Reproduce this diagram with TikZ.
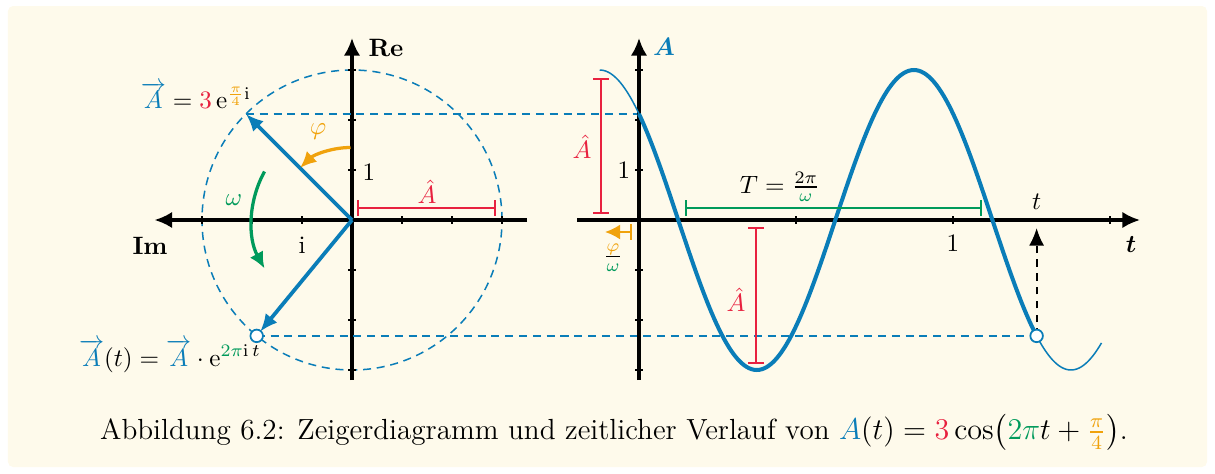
\documentclass[tikz,border=0pt]{standalone}
\usepackage{amsmath,bm}
\usetikzlibrary{arrows.meta}
\definecolor{cblue}{HTML}{0A7DB8}
\definecolor{cred}{HTML}{E8213F}
\definecolor{cgreen}{HTML}{009A5B}
\definecolor{corange}{HTML}{F0A20C}
\definecolor{cbg}{HTML}{FEFAEB}
\tikzset{
  axis/.style={line width=1.2pt,-{Latex[length=7pt,width=6.5pt]}},
  tck/.style={line width=0.8pt},
  phasor/.style={cblue,line width=1.5pt,-{Latex[length=7pt,width=6pt]}},
  helper/.style={cblue,dashed,line width=0.6pt,dash pattern=on 3.2pt off 2.3pt},
  bar/.style={line width=0.8pt,{Bar[width=6pt]}-{Bar[width=6pt]}},
  dot/.style={circle,draw=cblue,fill=white,line width=0.7pt,inner sep=0pt,minimum size=5pt},
  lbl/.style={inner sep=1pt}
}
\begin{document}
\begin{tikzpicture}[x=0.7cm,y=0.7cm]
\useasboundingbox (-7.04,-5.06) rectangle (17.26,4.4);
\fill[cbg,rounded corners=2pt] (-6.88,-4.94) rectangle (17.1,4.28);
% ---------------- left phasor diagram
\draw[helper] (0,0) circle (3);
\draw[axis] (3.5,0) -- (-3.95,0);
\draw[axis] (0,-3.2) -- (0,3.64);
\foreach \k in {-3,-2,-1,1,2,3}{
  \draw[tck] (\k,-0.08) -- (\k,0.08);
  \draw[tck] (-0.08,\k) -- (0.08,\k);
}
\node[lbl] (re) at (0.68,3.44) {\textbf{Re}};
\node[lbl] (im) at (-4.04,-0.52) {\textbf{Im}};
\node[lbl] (ilab) at (-1,-0.5) {i};
\node[lbl] (onel) at (0.34,0.96) {1};
\coordinate (O) at (0,0);
\coordinate (T1) at (-2.1213,2.1213);
\coordinate (P) at (-1.906,-2.3175);
\coordinate (O2) at (5.74,0);
\coordinate (T2) at (5.74,2.1213);
\coordinate (Q) at (13.692,-2.3175);
\coordinate (Qa) at (13.692,-0.16);
\draw[helper] (T1) -- (T2);
\draw[helper] (P) -- (Q);
\draw[phasor] (O) -- (T1);
\draw[phasor,shorten >=2.2pt] (O) -- (P);
\node[dot] (pdot) at (P) {};
% arcs
\draw[corange,line width=1.3pt,-{Latex[length=6.5pt,width=6pt]}] (-0.03,1.45) arc[start angle=90,end angle=134,radius=1.45];
\node[lbl,text=corange] (phil) at (-0.68,1.76) {$\varphi$};
\draw[cgreen,line width=1.3pt,-{Latex[length=6.5pt,width=6pt]}] (151:2) arc[start angle=151,end angle=209,radius=2];
\node[lbl,text=cgreen] (oml) at (-2.36,0.4) {$\omega$};
% amplitude bar
\draw[bar,cred] (0.1,0.24) -- (2.88,0.24);
\node[lbl,text=cred] (ahl) at (1.5,0.56) {$\hat{A}$};
% phasor labels
\node[lbl] (lab1) at (-3.12,2.5) {$\color{cblue}\overrightarrow{A}\color{black}=\color{cred}3\,\color{black}\mathrm{e}^{\color{corange}\frac{\pi}{4}\color{black}\mathrm{i}}$};
\node[lbl] (lab2) at (-3.64,-2.72) {$\color{cblue}\overrightarrow{A}\color{black}(t)=\color{cblue}\overrightarrow{A}\color{black}\cdot\mathrm{e}^{\color{cgreen}2\pi\color{black}\mathrm{i}\,t}$};
% ---------------- right time plot
\draw[axis] (4.5,0) -- (15.76,0);
\draw[axis] (5.74,-3.2) -- (5.74,3.64);
\foreach \k in {-3,-2,-1,1,2,3}{
  \draw[tck] (5.66,\k) -- (5.82,\k);
}
\foreach \k in {1,2,3}{
  \draw[tck] ({5.74+\k*pi},-0.08) -- ({5.74+\k*pi},0.08);
}
\node[lbl] (al) at (6.24,3.46) {$\color{cblue}\bm{A}$};
\node[lbl] (tl) at (15.58,-0.5) {$\bm{t}$};
\node[lbl] (oner) at (12.02,-0.46) {1};
\node[lbl] (onea) at (5.44,1.0) {1};
\draw[cblue,line width=0.6pt,domain=-0.7854:0,samples=20] plot ({5.74+\x},{3*cos(deg(\x+pi/4))});
\draw[cblue,line width=1.6pt,domain=0:7.952,samples=160] plot ({5.74+\x},{3*cos(deg(\x+pi/4))});
\draw[cblue,line width=0.6pt,domain=7.952:9.25,samples=30] plot ({5.74+\x},{3*cos(deg(\x+pi/4))});
\draw[dashed,line width=0.8pt,dash pattern=on 3pt off 2.5pt,-{Latex[length=7pt,width=6pt]}] (Q) -- (Qa);
\node[dot] (qdot) at (Q) {};
\node[lbl] (tt) at (13.692,0.36) {$t$};
% bars right
\draw[bar,cred] (4.98,2.85) -- (4.98,0.12);
\node[lbl,text=cred] (ah2) at (4.60,1.46) {$\hat{A}$};
\draw[bar,cred] (8.08,-0.14) -- (8.08,-2.88);
\node[lbl,text=cred] (ah3) at (7.68,-1.6) {$\hat{A}$};
\draw[bar,cgreen] (6.66,0.24) -- (12.6,0.24);
\node[lbl] (Tl) at (8.56,0.66) {$T=\frac{2\pi}{\color{cgreen}\omega}$};
\draw[corange,line width=0.9pt,{Bar[width=6pt]}-{Latex[length=6pt,width=6pt]}] (5.60,-0.24) -- (5.06,-0.24);
\node[lbl] (pw) at (5.22,-0.76) {$\frac{\color{corange}\varphi}{\color{cgreen}\omega}$};
% caption
\node[lbl] (cap) at (5.24,-4.24) {\fontsize{11.6pt}{14pt}\selectfont Abbildung 6.2: Zeigerdiagramm und zeitlicher Verlauf von $\color{cblue}A\color{black}(t)=\color{cred}3\color{black}\cos\bigl(\color{cgreen}2\pi\color{black} t+\color{corange}\frac{\pi}{4}\color{black}\bigr)$.};
\end{tikzpicture}
\end{document}
